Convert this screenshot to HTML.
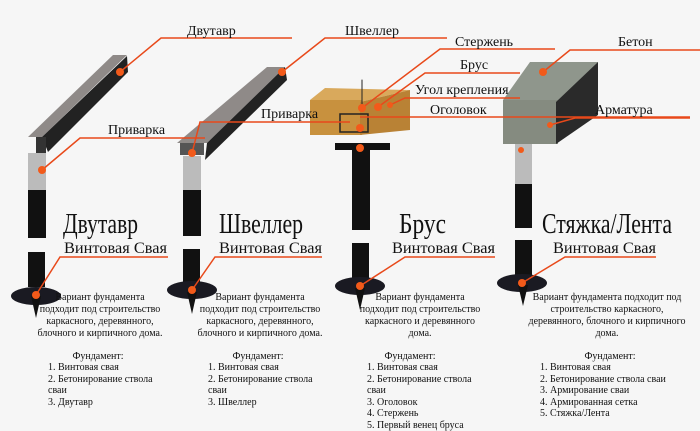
<!DOCTYPE html>
<html><head><meta charset="utf-8"><style>
html,body{margin:0;padding:0;background:#f6f6f6;}
svg{display:block;}
text{font-family:"Liberation Serif",serif;fill:#111;}
.s{font-size:10px;}
</style></head><body>
<svg width="700" height="431" viewBox="0 0 700 431" xmlns="http://www.w3.org/2000/svg">
<rect width="700" height="431" fill="#f6f6f6"/>
<g stroke-linecap="round">
<!-- beams col1 -->
<polygon points="28,137 113,55 127,55 42,137" fill="#8f8a88"/>
<polygon points="42,137 127,56 128,72 48,152" fill="#222"/>
<rect x="36" y="137" width="10" height="16" fill="#333"/>
<!-- pile1 -->
<rect x="28" y="153" width="18" height="37" fill="#bbb"/>
<rect x="28" y="190" width="18" height="48" fill="#111"/>
<rect x="28" y="252" width="17" height="35" fill="#111"/>
<ellipse cx="36" cy="296" rx="25" ry="9" fill="#1a1a22"/>
<polygon points="31,296 41,296 36,318" fill="#111"/>
<!-- beam col2 -->
<polygon points="177,143 267,67 285,67 207,143" fill="#8f8a88"/>
<polygon points="207,143 285,67 287,80 205,160" fill="#222"/>
<rect x="180" y="143" width="24" height="12" fill="#555"/>
<rect x="183" y="156" width="18" height="34" fill="#bbb"/>
<rect x="183" y="190" width="18" height="46" fill="#111"/>
<rect x="183" y="249" width="17" height="40" fill="#111"/>
<ellipse cx="192" cy="290" rx="25" ry="9" fill="#1a1a22"/>
<polygon points="187,292 197,292 192,314" fill="#111"/>
<!-- wood col3 -->
<polygon points="310,100 325,88 410,90 360,102" fill="#d9a95c"/>
<rect x="310" y="100" width="52" height="35" fill="#c8913e"/>
<polygon points="360,102 410,90 410,130 360,135" fill="#b98235"/>
<line x1="362" y1="80" x2="362" y2="110" stroke="#222" stroke-width="1"/>
<rect x="340" y="114" width="28" height="18" fill="none" stroke="#222" stroke-width="1.5"/>
<rect x="335" y="143" width="55" height="7" fill="#111"/>
<rect x="352" y="150" width="18" height="80" fill="#111"/>
<rect x="352" y="243" width="17" height="42" fill="#111"/>
<ellipse cx="360" cy="286" rx="25" ry="9" fill="#1a1a22"/>
<polygon points="355,288 365,288 360,310" fill="#111"/>
<!-- concrete col4 -->
<polygon points="503,100 530,62 598,62 560,102" fill="#8f968c"/>
<rect x="503" y="100" width="55" height="44" fill="#858b80"/>
<polygon points="556,102 598,62 598,115 556,144" fill="#2a2a2a"/>
<rect x="515" y="144" width="17" height="40" fill="#bbb"/>
<rect x="515" y="184" width="17" height="44" fill="#111"/>
<rect x="515" y="240" width="17" height="40" fill="#111"/>
<ellipse cx="522" cy="283" rx="25" ry="9" fill="#1a1a22"/>
<polygon points="518,285 528,285 523,306" fill="#111"/>
</g>
<!-- leader lines -->
<g stroke="#e8491a" stroke-width="1.5" fill="none">
<polyline points="292,38 161,38 120,72"/>
<polyline points="447,38 325,38 282,72"/>
<polyline points="555,49 440,49 362,108"/>
<polyline points="700,50 570,50 543,72"/>
<polyline points="520,73 425,73 378,107"/>
<polyline points="520,98 405,98 390,105"/>
<polyline points="690,117 360,117"/>
<polyline points="690,118 575,118 550,125"/>
<polyline points="205,138 80,138 42,170"/>
<polyline points="350,122 200,122 192,153"/>
<polyline points="168,257 60,257 36,295"/>
<polyline points="322,257 215,257 192,290"/>
<polyline points="495,257 405,257 360,286"/>
<polyline points="656,257 565,257 522,283"/>
</g>
<g fill="#f25a1a">
<circle cx="120" cy="72" r="4"/><circle cx="282" cy="72" r="4"/>
<circle cx="362" cy="108" r="4"/><circle cx="543" cy="72" r="4"/>
<circle cx="378" cy="107" r="4"/><circle cx="390" cy="105" r="3"/>
<circle cx="360" cy="128" r="4"/><circle cx="550" cy="125" r="3"/>
<circle cx="42" cy="170" r="4"/><circle cx="192" cy="153" r="4"/>
<circle cx="36" cy="295" r="4"/><circle cx="192" cy="290" r="4"/>
<circle cx="360" cy="286" r="4"/><circle cx="522" cy="283" r="4"/>
<circle cx="360" cy="148" r="4"/><circle cx="521" cy="150" r="3"/>
</g>
<!-- top labels -->
<g font-size="14">
<text x="187" y="35">Двутавр</text>
<text x="345" y="35">Швеллер</text>
<text x="455" y="46">Стержень</text>
<text x="618" y="46">Бетон</text>
<text x="460" y="69">Брус</text>
<text x="415" y="94">Угол крепления</text>
<text x="430" y="114">Оголовок</text>
<text x="595" y="114">Арматура</text>
<text x="108" y="134">Приварка</text>
<text x="261" y="118">Приварка</text>
</g>
<!-- titles -->
<g font-size="28">
<text x="63" y="233" textLength="75" lengthAdjust="spacingAndGlyphs">Двутавр</text>
<text x="219" y="233" textLength="84" lengthAdjust="spacingAndGlyphs">Швеллер</text>
<text x="399" y="233" textLength="47" lengthAdjust="spacingAndGlyphs">Брус</text>
<text x="542" y="233" textLength="130" lengthAdjust="spacingAndGlyphs">Стяжка/Лента</text>
</g>
<g font-size="16">
<text x="64" y="253" textLength="103" lengthAdjust="spacingAndGlyphs">Винтовая Свая</text>
<text x="219" y="253" textLength="103" lengthAdjust="spacingAndGlyphs">Винтовая Свая</text>
<text x="392" y="253" textLength="103" lengthAdjust="spacingAndGlyphs">Винтовая Свая</text>
<text x="553" y="253" textLength="103" lengthAdjust="spacingAndGlyphs">Винтовая Свая</text>
</g>
<g class="s" text-anchor="middle">
<text x="100" y="300">Вариант фундамента</text>
<text x="100" y="312">подходит под строительство</text>
<text x="100" y="324">каркасного, деревянного,</text>
<text x="100" y="336">блочного и кирпичного дома.</text>
<text x="260" y="300">Вариант фундамента</text>
<text x="260" y="312">подходит под строительство</text>
<text x="260" y="324">каркасного, деревянного,</text>
<text x="260" y="336">блочного и кирпичного дома.</text>
<text x="420" y="300">Вариант фундамента</text>
<text x="420" y="312">подходит под строительство</text>
<text x="420" y="324">каркасного и деревянного</text>
<text x="420" y="336">дома.</text>
<text x="607" y="300">Вариант фундамента подходит под</text>
<text x="607" y="312">строительство каркасного,</text>
<text x="607" y="324">деревянного, блочного и кирпичного</text>
<text x="607" y="336">дома.</text>
<text x="98" y="359">Фундамент:</text>
<text x="258" y="359">Фундамент:</text>
<text x="410" y="359">Фундамент:</text>
<text x="610" y="359">Фундамент:</text>
</g>
<g class="s">
<text x="48" y="370">1. Винтовая свая</text>
<text x="48" y="382">2. Бетонирование ствола</text>
<text x="48" y="393">сваи</text>
<text x="48" y="405">3. Двутавр</text>
<text x="208" y="370">1. Винтовая свая</text>
<text x="208" y="382">2. Бетонирование ствола</text>
<text x="208" y="393">сваи</text>
<text x="208" y="405">3. Швеллер</text>
<text x="367" y="370">1. Винтовая свая</text>
<text x="367" y="382">2. Бетонирование ствола</text>
<text x="367" y="393">сваи</text>
<text x="367" y="405">3. Оголовок</text>
<text x="367" y="416">4. Стержень</text>
<text x="367" y="428">5. Первый венец бруса</text>
<text x="540" y="370">1. Винтовая свая</text>
<text x="540" y="382">2. Бетонирование ствола сваи</text>
<text x="540" y="393">3. Армирование сваи</text>
<text x="540" y="405">4. Армированная сетка</text>
<text x="540" y="416">5. Стяжка/Лента</text>
</g>
</svg>
</body></html>
